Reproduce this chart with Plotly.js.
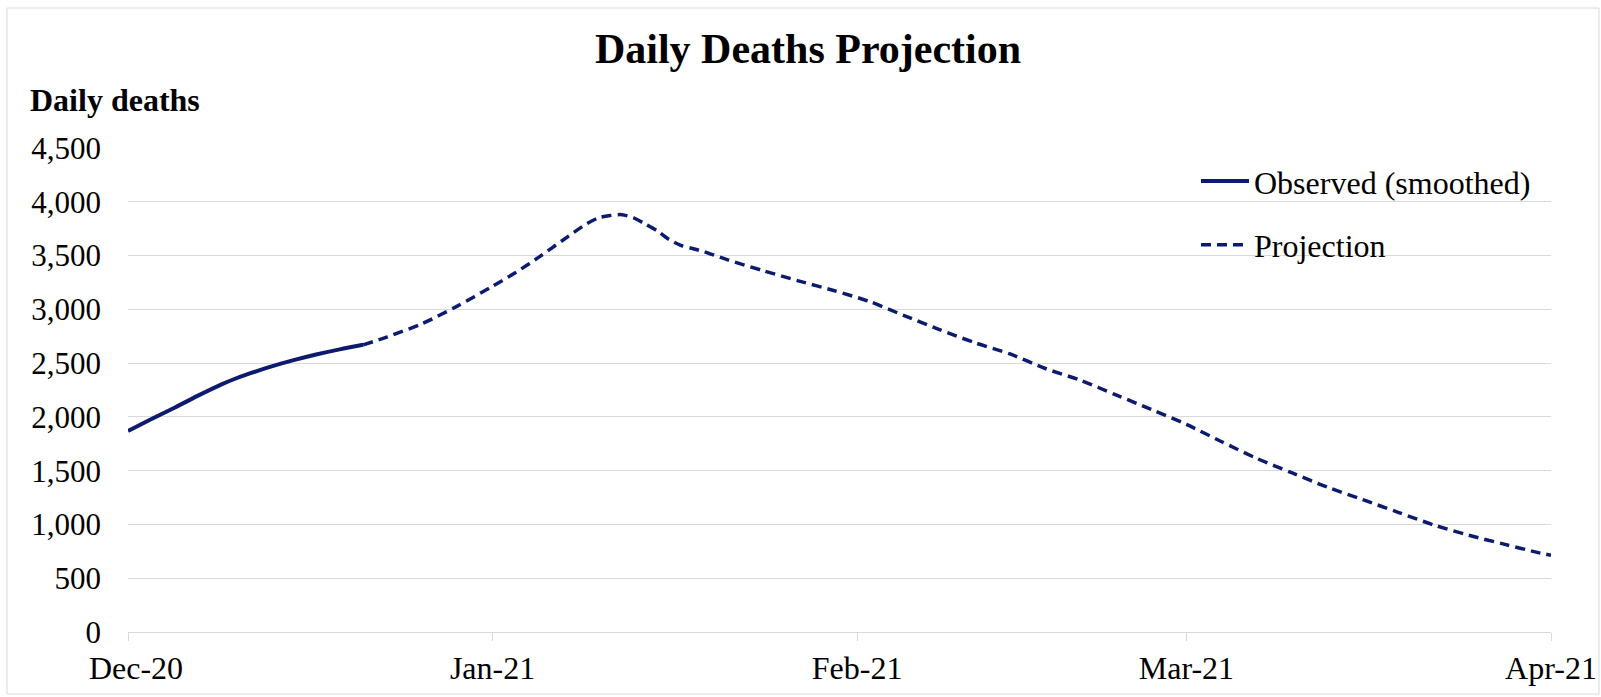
<!DOCTYPE html>
<html>
<head>
<meta charset="utf-8">
<script src="https://cdn.plot.ly/plotly-3.0.1.min.js"></script>
<style>
  html, body { margin: 0; padding: 0; background: #ffffff; }
  #chart { width: 1601px; height: 697px; }
</style>
</head>
<body>
<div id="chart"></div>
<script>
// Observed (smoothed) daily deaths
const observedDates = ["2020-12-01","2020-12-03","2020-12-05","2020-12-07","2020-12-09","2020-12-10","2020-12-11","2020-12-13","2020-12-15","2020-12-17","2020-12-19","2020-12-21"];
const observedValues = [1868, 1980, 2088, 2200, 2305, 2350, 2390, 2462, 2525, 2580, 2628, 2670];

// Projection
const projectionDates = ["2020-12-21","2020-12-23","2020-12-26","2020-12-29","2021-01-01","2021-01-03","2021-01-05","2021-01-07","2021-01-09","2021-01-10","2021-01-11","2021-01-12","2021-01-13","2021-01-14","2021-01-15","2021-01-16","2021-01-17","2021-01-18","2021-01-19","2021-01-21","2021-01-24","2021-01-27","2021-01-30","2021-02-02","2021-02-05","2021-02-08","2021-02-11","2021-02-14","2021-02-17","2021-02-20","2021-02-23","2021-02-26","2021-03-01","2021-03-04","2021-03-07","2021-03-10","2021-03-13","2021-03-16","2021-03-19","2021-03-22","2021-03-25","2021-03-28","2021-03-31","2021-04-01"];
const projectionValues = [2670, 2742, 2867, 3030, 3215, 3345, 3490, 3645, 3795, 3850, 3872, 3880, 3850, 3792, 3730, 3650, 3595, 3565, 3535, 3460, 3360, 3265, 3175, 3075, 2942, 2812, 2690, 2585, 2450, 2340, 2205, 2070, 1930, 1769, 1613, 1479, 1346, 1230, 1113, 996, 900, 817, 736, 713];

// Axis ticks
const xTickVals = ["2020-12-01","2021-01-01","2021-02-01","2021-03-01","2021-04-01"];
const xTickText = ["Dec-20","Jan-21","Feb-21","Mar-21","Apr-21"];
const yTickVals = [0, 500, 1000, 1500, 2000, 2500, 3000, 3500, 4000, 4500];

const navy = "#0d1b6e";
const serif = "Liberation Serif, Times New Roman, serif";
const L = 128, R = 50, T = 148, B = 65;
const PW = 1601 - L - R, PH = 697 - T - B;

// The first label is nudged inward (as in the source chart) with non-breaking spaces
const NB = "\u00a0\u00a0";
const xTickTextShown = xTickText.map((t, i) => (i === 0 ? NB + t : t));

const traces = [
  {
    x: observedDates, y: observedValues, type: "scatter", mode: "lines",
    name: "Observed (smoothed)", legendgroup: "obs",
    line: { color: navy, width: 4, shape: "spline", smoothing: 0.8 }
  },
  {
    x: projectionDates, y: projectionValues, type: "scatter", mode: "lines",
    name: "Projection", legendgroup: "proj",
    line: { color: navy, width: 3.5, dash: "10px,6px", shape: "spline", smoothing: 0.8 }
  }
];

const layout = {
  width: 1601, height: 697,
  margin: { l: L, r: R, t: T, b: B },
  paper_bgcolor: "#ffffff", plot_bgcolor: "#ffffff",
  font: { family: serif, color: "#000000", size: 31 },
  title: {
    text: "<b>Daily Deaths Projection</b>",
    font: { family: serif, size: 42, color: "#000000" },
    x: 808 / 1601, xref: "container", xanchor: "center",
    y: 1 - 48 / 697, yref: "container", yanchor: "middle"
  },
  xaxis: {
    type: "date",
    range: ["2020-12-01", "2021-04-01"],
    tickvals: xTickVals, ticktext: xTickTextShown,
    ticks: "outside", ticklen: 8, tickcolor: "#d9d9d9", tickwidth: 1,
    showgrid: false, showline: true, linecolor: "#d9d9d9", linewidth: 1,
    zeroline: false,
    tickfont: { family: serif, size: 32, color: "#000000" },
    ticklabelstandoff: 0,
    ticklabeloverflow: "allow"
  },
  yaxis: {
    range: [0, 4500],
    tickvals: yTickVals, tickformat: ",d",
    showgrid: true, gridcolor: "#d9d9d9", gridwidth: 1,
    zeroline: false, showline: false, ticks: "",
    tickfont: { family: serif, size: 31, color: "#000000" },
    ticklabelstandoff: 26
  },
  showlegend: true,
  legend: {
    x: (1196 - L) / PW, xanchor: "left",
    y: 0.988, yanchor: "top",
    bgcolor: "rgba(0,0,0,0)",
    font: { family: serif, size: 32, color: "#000000" },
    traceorder: "grouped", tracegroupgap: 19,
    itemwidth: 48
  },
  annotations: [
    {
      text: "<b>Daily deaths</b>", xref: "paper", yref: "paper",
      x: (28 - L) / PW, xanchor: "left",
      y: (634 - 102) / PH, yanchor: "middle",
      showarrow: false,
      font: { family: serif, size: 32, color: "#000000" }
    }
  ],
  shapes: [
    {
      type: "rect", xref: "paper", yref: "paper",
      x0: (7 - L) / PW, x1: (1599 - L) / PW,
      y0: (632 - 694) / PH, y1: (632 - 8) / PH,
      line: { color: "#d9d9d9", width: 1 }, fillcolor: "rgba(0,0,0,0)", layer: "below"
    }
  ]
};

Plotly.newPlot("chart", traces, layout, { displayModeBar: false, staticPlot: true });
</script>
</body>
</html>
